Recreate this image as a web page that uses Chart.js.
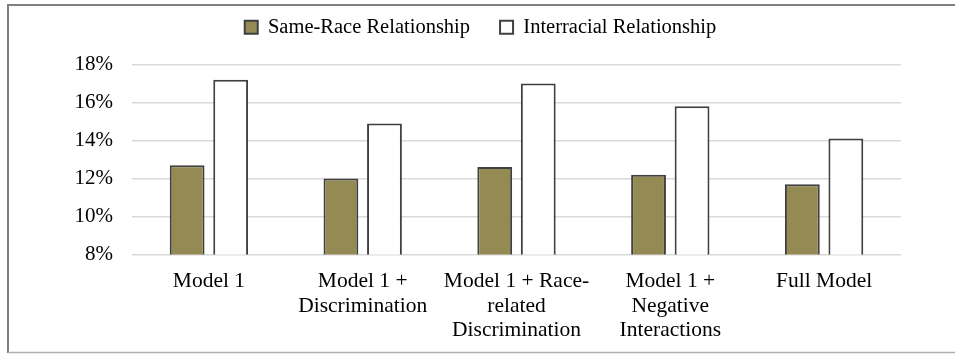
<!DOCTYPE html>
<html>
<head>
<meta charset="utf-8">
<script src="https://cdn.jsdelivr.net/npm/chart.js@4.4.1/dist/chart.umd.min.js"></script>
<style>
  html, body { margin: 0; padding: 0; background: #ffffff; }
  #wrap { position: relative; width: 955px; height: 354px; }
  canvas { display: block; }
</style>
</head>
<body>
<div id="wrap"><canvas id="chart" width="955" height="354"></canvas></div>
<script>
// Categories (multi-line axis labels) and series values, in percent
const categories = [
  ["Model 1"],
  ["Model 1 +", "Discrimination"],
  ["Model 1 + Race-", "related", "Discrimination"],
  ["Model 1 +", "Negative", "Interactions"],
  ["Full Model"]
];
const seriesNames = ["Same-Race Relationship", "Interracial Relationship"];
const sameRace = [12.7, 12.0, 12.6, 12.2, 11.7];
const interracial = [17.2, 14.9, 17.0, 15.8, 14.1];
const yTicks = [8, 10, 12, 14, 16, 18];

const serif = "'Liberation Serif', 'Times New Roman', serif";
const legendPad = 30;

// Thin frame around the figure (top, left, bottom edges)
const framePlugin = {
  id: 'frame',
  beforeDraw(chart) {
    const ctx = chart.ctx;
    ctx.save();
    ctx.strokeStyle = '#7f7f7f';
    ctx.lineWidth = 2;
    ctx.beginPath();
    ctx.moveTo(955, 5);
    ctx.lineTo(8, 5);
    ctx.lineTo(8, 353);
    ctx.stroke();
    ctx.strokeStyle = '#b0b0b0';
    ctx.lineWidth = 1.5;
    ctx.beginPath();
    ctx.moveTo(8, 352.5);
    ctx.lineTo(955, 352.5);
    ctx.stroke();
    ctx.restore();
  }
};

// Reserve a fixed band for the legend and place its row inside that band
const legendBand = {
  id: 'legendBand',
  beforeUpdate(chart) {
    const lg = chart.legend;
    if (lg && !lg._bandPatched) {
      const fit = lg.fit;
      lg.fit = function () {
        fit.call(this);
        this.height = 64.5;
      };
      lg._bandPatched = true;
    }
  },
  afterLayout(chart) {
    const lg = chart.legend;
    if (!lg) return;
    const dy = -13;
    const dx = 30;
    lg.top += dy; lg.bottom += dy;
    lg.left += dx; lg.right += dx;
  }
};

new Chart(document.getElementById('chart'), {
  type: 'bar',
  data: {
    labels: categories,
    datasets: [
      {
        label: seriesNames[0],
        data: sameRace,
        backgroundColor: '#948A54',
        borderColor: '#404040',
        borderWidth: 2,
        categoryPercentage: 0.566,
        barPercentage: 0.8
      },
      {
        label: seriesNames[1],
        data: interracial,
        backgroundColor: '#ffffff',
        borderColor: '#404040',
        borderWidth: 2,
        categoryPercentage: 0.566,
        barPercentage: 0.8
      }
    ]
  },
  options: {
    responsive: false,
    animation: false,
    devicePixelRatio: 1,
    layout: { padding: { left: 0, right: 54, top: 0, bottom: 0 } },
    plugins: {
      legend: {
        position: 'top',
        labels: {
          color: '#000000',
          font: { family: serif, size: 20.5 },
          boxWidth: 13,
          boxHeight: 13,
          padding: legendPad
        }
      },
      tooltip: { enabled: false }
    },
    scales: {
      x: {
        afterFit(scale) { scale.height = 99.5; },
        grid: { display: false, drawTicks: false },
        border: { display: false },
        ticks: {
          color: '#000000',
          font: { family: serif, size: 21.5, lineHeight: 1.16 },
          padding: 14,
          maxRotation: 0,
          autoSkip: false
        }
      },
      y: {
        min: yTicks[0],
        max: yTicks[yTicks.length - 1],
        afterFit(scale) { scale.width = 132; },
        afterBuildTicks(scale) { scale.ticks = yTicks.map(v => ({ value: v })); },
        grid: { color: '#d9d9d9', lineWidth: 1.5, drawTicks: false },
        border: { display: false },
        ticks: {
          color: '#000000',
          font: { family: serif, size: 21 },
          padding: 19,
          callback: v => v + '%'
        }
      }
    }
  },
  plugins: [framePlugin, legendBand]
});
</script>
</body>
</html>
